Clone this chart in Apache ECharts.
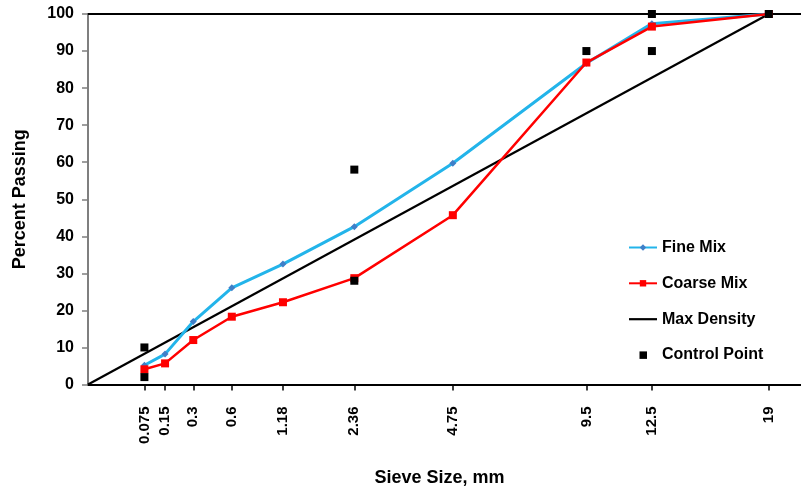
<!DOCTYPE html>
<html>
<head>
<meta charset="utf-8">
<script src="https://cdn.jsdelivr.net/npm/echarts@6/dist/echarts.min.js"></script>
<style>
  html, body { margin: 0; padding: 0; background: #fff; }
  #chart { width: 801px; height: 493px; }
</style>
</head>
<body>
<div id="chart"></div>
<script>
// Sieve sizes (mm) and their tick labels
const sieveSizes = [0.075, 0.15, 0.3, 0.6, 1.18, 2.36, 4.75, 9.5, 12.5, 19];
const sieveLabels = ['0.075', '0.15', '0.3', '0.6', '1.18', '2.36', '4.75', '9.5', '12.5', '19'];

// Percent passing for each mix
const fineMix = [5.2, 8.2, 17, 26.1, 32.5, 42.6, 59.7, 86.7, 97.4, 100];
const coarseMix = [4.1, 5.7, 12, 18.3, 22.2, 28.7, 45.7, 86.9, 96.6, 100];

// Maximum density line end points
const maxDensitySizes = [0, 19];
const maxDensityValues = [0, 100];

// Control points
const controlSizes = [0.075, 0.075, 2.36, 2.36, 9.5, 12.5, 12.5, 19];
const controlValues = [2, 10, 28, 58, 90, 90, 100, 100];

// Y axis ticks
const yMin = 0, yMax = 100, yStep = 10;

// 0.45 power gradation scale
const POWER = 0.45;
const scale = s => Math.pow(s, POWER);

const tickPositions = sieveSizes.map(scale);
const labelFor = v => {
  let best = 0, bestD = Infinity;
  tickPositions.forEach((t, i) => {
    const d = Math.abs(t - v);
    if (d < bestD) { bestD = d; best = i; }
  });
  return sieveLabels[best];
};

const pairs = (sizes, vals) => sizes.map((s, i) => [scale(s), vals[i]]);

const font = 'Liberation Sans, Arial, sans-serif';
const chart = echarts.init(document.getElementById('chart'), null, { renderer: 'canvas' });

chart.setOption({
  animation: false,
  backgroundColor: '#ffffff',
  grid: { left: 88, right: 0, top: 14, bottom: 108.5, containLabel: false },
  legend: {
    orient: 'vertical',
    left: 623,
    top: 234.5,
    itemWidth: 28,
    itemHeight: 8,
    itemGap: 19.8,
    textStyle: { fontFamily: font, fontWeight: 'bold', fontSize: 16, color: '#000' },
    data: [
      { name: 'Fine Mix' },
      { name: 'Coarse Mix' },
      // plain black stroke, no marker
      { name: 'Max Density', icon: 'path://M0,0M28,8M0,3h28v2.2h-28z' },
      // small square centred in the icon box
      { name: 'Control Point', icon: 'path://M0,0M28,8M10.5,0.5h7.5v7.5h-7.5z' }
    ]
  },
  xAxis: [
    {
      type: 'value',
      position: 'bottom',
      min: 0,
      max: 3.94,
      name: 'Sieve Size, mm',
      nameLocation: 'middle',
      nameGap: 85,
      nameTextStyle: { fontFamily: font, fontWeight: 'bold', fontSize: 18, color: '#000', padding: [0, 10, 0, 0] },
      axisLine: { show: true, lineStyle: { color: '#000', width: 2 } },
      axisTick: { show: true, customValues: tickPositions, length: 6, lineStyle: { color: '#000', width: 1.5 } },
      axisLabel: {
        customValues: tickPositions,
        rotate: 90,
        margin: 22,
        fontFamily: font,
        fontWeight: 'bold',
        fontSize: 15,
        color: '#000',
        formatter: v => labelFor(v)
      },
      splitLine: { show: false }
    },
    {
      type: 'value',
      position: 'top',
      min: 0,
      max: 3.94,
      axisLine: { show: true, lineStyle: { color: '#000', width: 2 } },
      axisTick: { show: false },
      axisLabel: { show: false },
      splitLine: { show: false }
    }
  ],
  yAxis: {
    type: 'value',
    min: yMin,
    max: yMax,
    interval: yStep,
    name: 'Percent Passing',
    nameLocation: 'middle',
    nameGap: 59,
    nameTextStyle: { fontFamily: font, fontWeight: 'bold', fontSize: 18, color: '#000' },
    axisLine: { show: true, lineStyle: { color: '#7f7f7f', width: 2 } },
    axisTick: { show: true, length: 6, lineStyle: { color: '#7f7f7f', width: 1.5 } },
    axisLabel: { margin: 14, fontFamily: font, fontWeight: 'bold', fontSize: 16, color: '#000' },
    splitLine: { show: false }
  },
  series: [
    {
      name: 'Max Density',
      type: 'line',
      data: pairs(maxDensitySizes, maxDensityValues),
      showSymbol: false,
      symbol: 'none',
      lineStyle: { color: '#000', width: 2.2 },
      itemStyle: { color: '#000' },
      z: 2
    },
    {
      name: 'Fine Mix',
      type: 'line',
      data: pairs(sieveSizes, fineMix),
      symbol: 'diamond',
      symbolSize: 7,
      lineStyle: { color: '#23b4ea', width: 3 },
      itemStyle: { color: '#3f7fc8' },
      z: 3
    },
    {
      name: 'Coarse Mix',
      type: 'line',
      data: pairs(sieveSizes, coarseMix),
      symbol: 'rect',
      symbolSize: 8,
      lineStyle: { color: '#ff0000', width: 2.5 },
      itemStyle: { color: '#ff0000' },
      z: 4
    },
    {
      name: 'Control Point',
      type: 'scatter',
      data: pairs(controlSizes, controlValues),
      symbol: 'rect',
      symbolSize: 8,
      itemStyle: { color: '#000', opacity: 1 },
      z: 5
    }
  ]
});
</script>
</body>
</html>
